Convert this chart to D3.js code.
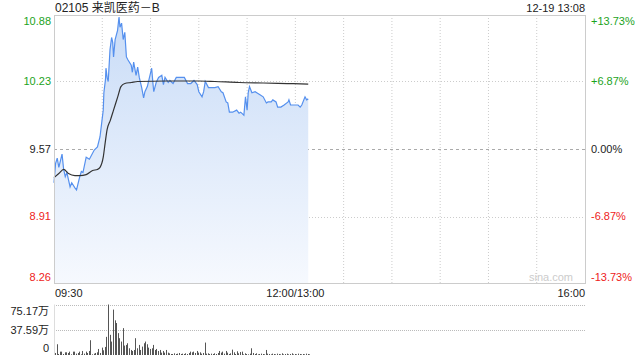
<!DOCTYPE html>
<html>
<head>
<meta charset="utf-8">
<script src="https://cdn.jsdelivr.net/npm/d3@7"></script>
<style>
  body { margin: 0; background: #fff; }
  text { font-family: Arial, "Liberation Sans", "Noto Sans CJK SC", sans-serif; }
</style>
</head>
<body>
<div id="chart"></div>
<script>
// data
const title = "02105 来凯医药－B"
const stamp = "12-19 13:08"
const prevClose = 9.57
const priceTicks = [10.88, 10.23, 9.57, 8.91, 8.26]
const pctTicks = ["+13.73%", "+6.87%", "0.00%", "-6.87%", "-13.73%"]
const timeTicks = ["09:30", "12:00/13:00", "16:00"]
const volTicks = [75.17, 37.59, 0]
const volLabels = ["75.17万", "37.59万", "0"]

// minutes from 09:30 (lunch removed) and price
const priceMin = [0, 1, 2, 3, 5, 6, 7, 8, 10, 11, 13, 14, 16, 17, 18, 20, 21, 22, 25, 27,
  28.6, 29.6, 30.6, 31, 32, 32.3, 33, 33.7, 34.8, 35.8, 36.5, 37, 38, 39.5, 40.4, 41, 42, 43, 44, 45,
  46, 48, 48.7, 49.5, 51, 52, 53, 54.5, 55.7, 56.5, 58, 60.7, 61.5, 62, 63.5, 65, 67, 68, 69, 71,
  72, 74, 76, 79, 81, 83, 85, 87, 89, 90, 92, 93, 94, 96, 98, 100, 102, 104, 105, 107,
  108, 109, 111, 113.5, 115, 116, 118, 119, 120, 120.7, 121.5, 123, 125, 126, 128, 130, 132, 133, 135, 136,
  138, 139, 141, 143, 145.5, 146, 147, 149, 151.7, 153, 154, 156, 157, 158]
const price = [9.24, 9.43, 9.48, 9.39, 9.52, 9.37, 9.30, 9.34, 9.20, 9.24, 9.19, 9.17, 9.30, 9.35, 9.34, 9.49, 9.48, 9.47, 9.56, 9.59,
  9.69, 9.82, 9.95, 10.12, 10.25, 10.36, 10.27, 10.23, 10.54, 10.66, 10.61, 10.47, 10.64, 10.73, 10.86, 10.76, 10.80, 10.64, 10.71, 10.47,
  10.44, 10.39, 10.32, 10.42, 10.29, 10.37, 10.27, 10.17, 10.07, 10.13, 10.18, 10.36, 10.21, 10.13, 10.22, 10.27, 10.29, 10.20, 10.27, 10.22,
  10.24, 10.21, 10.27, 10.27, 10.27, 10.21, 10.21, 10.24, 10.20, 10.13, 10.08, 10.13, 10.23, 10.17, 10.17, 10.17, 10.18, 10.13, 10.12, 10.03,
  10.02, 9.93, 9.93, 9.95, 9.92, 9.93, 9.90, 10.08, 9.95, 10.12, 10.18, 10.12, 10.13, 10.12, 10.10, 10.08, 10.02, 10.03, 10.03, 10.05,
  10.03, 9.98, 9.98, 10.00, 10.03, 10.05, 10.00, 10.00, 10.00, 9.98, 10.00, 10.08, 10.05, 10.06]

// average price line
const avgMin = [0, 3, 6, 9, 13, 16, 20, 24, 27, 28.6, 30.6, 31.8, 33, 35, 37, 39.6, 41.6, 44, 48, 52,
  70, 90, 100, 115, 130, 145, 158]
const avgPrice = [9.29, 9.33, 9.37, 9.33, 9.31, 9.31, 9.32, 9.36, 9.37, 9.39, 9.49, 9.63, 9.76, 9.85, 9.95, 10.08, 10.18, 10.21, 10.22, 10.23,
  10.235, 10.235, 10.23, 10.22, 10.215, 10.21, 10.205]

// volume per minute (万), 09:30 .. 13:08
const volume = [3, 16, 1.5, 5, 5, 1.5, 4, 4, 3, 5, 1, 5, 5, 2, 3, 5, 1, 6, 2, 5,
  3, 6, 22, 1, 2, 3, 4, 9, 3, 11, 7, 12, 27, 75.17, 30, 20, 67.6, 51.6, 47.6, 32.6,
  25, 20, 40, 14, 15, 17.5, 10, 7.5, 6, 7.5, 25, 10, 15, 7.5, 12.5, 17.5, 20, 16, 11, 9,
  10, 15, 7.5, 9, 6, 7.5, 3.5, 6, 3.5, 7.5, 3.5, 2.5, 1.5, 1.5, 2.5, 1.5, 2, 3, 1.5, 2,
  1.5, 2.5, 1.5, 3, 5, 4, 5, 3, 6, 3.5, 4, 2, 3, 18.5, 2, 2.5, 1.5, 2, 1.5, 2.5,
  1.5, 3, 6, 3.5, 5, 2, 6, 3.5, 1.5, 2.5, 8, 4, 1.5, 5.5, 2.5, 4.5, 5, 1, 2.5, 1.5,
  1, 2, 10, 3, 1.5, 2.5, 1, 1.5, 2, 1.5, 1, 7.5, 2, 1.5, 1, 2, 1.5, 1, 2, 1.5,
  1, 2.5, 1, 1.5, 2, 1, 1.5, 2.5, 1, 1.5, 1, 2, 1.5, 1, 1.5, 1, 2, 1.5, 1]

const width = 640
const height = 360
const margin = { left: 54, right: 55, top: 15 }
const plotBottom = 283
const volTop = 304.5
const volBottom = 355
const green = "#1ca31c"
const red = "#ee2222"

const svg = d3.select("#chart").append("svg")
  .attr("width", width).attr("height", height)

const x = d3.scaleLinear().domain([0, 330]).range([margin.left, width - margin.right])
const y = d3.scaleLinear().domain([8.26, 10.88]).range([plotBottom, margin.top])
const yv = d3.scaleLinear().domain([0, 75.17]).range([volBottom, volTop])

// gradient for area
const defs = svg.append("defs")
const grad = defs.append("linearGradient").attr("id", "fillGrad")
  .attr("x1", 0).attr("y1", 0).attr("x2", 0).attr("y2", 1)
grad.append("stop").attr("offset", "0%").attr("stop-color", "#c9dcf7")
grad.append("stop").attr("offset", "100%").attr("stop-color", "#f6f9fe")

// title
svg.append("text").attr("x", margin.left + 1).attr("y", 12)
  .attr("font-size", 12).attr("fill", "#222").text(title)
svg.append("text").attr("x", x(330)).attr("y", 12).attr("text-anchor", "end")
  .attr("font-size", 11).attr("fill", "#222").text(stamp)

// grid
const grid = svg.append("g")
d3.range(30, 330, 30).forEach(m => {
  grid.append("line").attr("x1", x(m)).attr("x2", x(m))
    .attr("y1", margin.top).attr("y2", plotBottom)
    .attr("stroke", "#ccc").attr("stroke-dasharray", "1,2")
})
priceTicks.slice(1, 4).forEach(p => {
  const zero = p === prevClose
  grid.append("line").attr("x1", x(0)).attr("x2", x(330))
    .attr("y1", Math.round(y(p)) + 0.5).attr("y2", Math.round(y(p)) + 0.5)
    .attr("stroke", zero ? "#aaa" : "#ccc")
    .attr("stroke-dasharray", zero ? "3,3" : "1,2")
})

// area and lines
const pts = priceMin.map((m, i) => [m, price[i]])
const area = d3.area().x(d => x(d[0])).y0(plotBottom).y1(d => y(d[1]))
svg.append("path").datum(pts).attr("fill", "url(#fillGrad)").attr("d", area)

const line = d3.line().x(d => x(d[0])).y(d => y(d[1]))
svg.append("path").datum(pts).attr("fill", "none")
  .attr("stroke", "#5590ee").attr("stroke-width", 1.2).attr("d", line)
svg.append("path").datum(avgMin.map((m, i) => [m, avgPrice[i]]))
  .attr("fill", "none").attr("stroke", "#333").attr("stroke-width", 1.2)
  .attr("d", d3.line().curve(d3.curveMonotoneX).x(d => x(d[0])).y(d => y(d[1])))

// frame
svg.append("rect").attr("x", x(0) + 0.5).attr("y", margin.top + 0.5)
  .attr("width", x(330) - x(0)).attr("height", plotBottom - margin.top)
  .attr("fill", "none").attr("stroke", "#ccc")

// watermark
svg.append("text").attr("x", x(330) - 12).attr("y", 281).attr("text-anchor", "end")
  .attr("font-size", 11).attr("fill", "#ccc").text("sina.com")

// left / right labels
priceTicks.forEach((p, i) => {
  const shift = i === 0 ? 6 : (i === priceTicks.length - 1 ? -6 : 0)
  const col = p > prevClose ? green : (p < prevClose ? red : "#222")
  svg.append("text").attr("x", x(0) - 3).attr("y", y(p) + shift).attr("dy", "0.35em")
    .attr("text-anchor", "end").attr("font-size", 11).attr("fill", col)
    .text(p.toFixed(2))
  svg.append("text").attr("x", x(330) + 6).attr("y", y(p) + shift).attr("dy", "0.35em")
    .attr("font-size", 11).attr("fill", col).text(pctTicks[i])
})

// time labels
svg.append("text").attr("x", x(0) + 1).attr("y", 297).attr("font-size", 11).attr("fill", "#222").text(timeTicks[0])
svg.append("text").attr("x", x(150)).attr("y", 297).attr("text-anchor", "middle").attr("font-size", 11).attr("fill", "#222").text(timeTicks[1])
svg.append("text").attr("x", x(330)).attr("y", 297).attr("text-anchor", "end").attr("font-size", 11).attr("fill", "#222").text(timeTicks[2])

// volume panel
volTicks.slice(0, 2).forEach(v => {
  svg.append("line").attr("x1", x(0)).attr("x2", x(330))
    .attr("y1", Math.round(yv(v)) + 0.5).attr("y2", Math.round(yv(v)) + 0.5)
    .attr("stroke", "#bbb").attr("stroke-dasharray", "1,1")
})
svg.append("line").attr("x1", x(0) + 0.5).attr("x2", x(0) + 0.5)
  .attr("y1", volTop).attr("y2", volBottom).attr("stroke", "#ddd")
volTicks.forEach((v, i) => {
  const shift = i === 0 ? 7 : (i === volTicks.length - 1 ? -7 : 0)
  svg.append("text").attr("x", x(0) - 5).attr("y", yv(v) + shift).attr("dy", "0.35em")
    .attr("text-anchor", "end").attr("font-size", 11).attr("fill", "#222").text(volLabels[i])
})
svg.append("g").selectAll("rect").data(volume).enter().append("rect")
  .attr("x", (d, i) => Math.round(x(i)) + 1)
  .attr("y", d => yv(d))
  .attr("width", 1)
  .attr("height", d => volBottom - yv(d))
  .attr("fill", "#555")
</script>
</body>
</html>
